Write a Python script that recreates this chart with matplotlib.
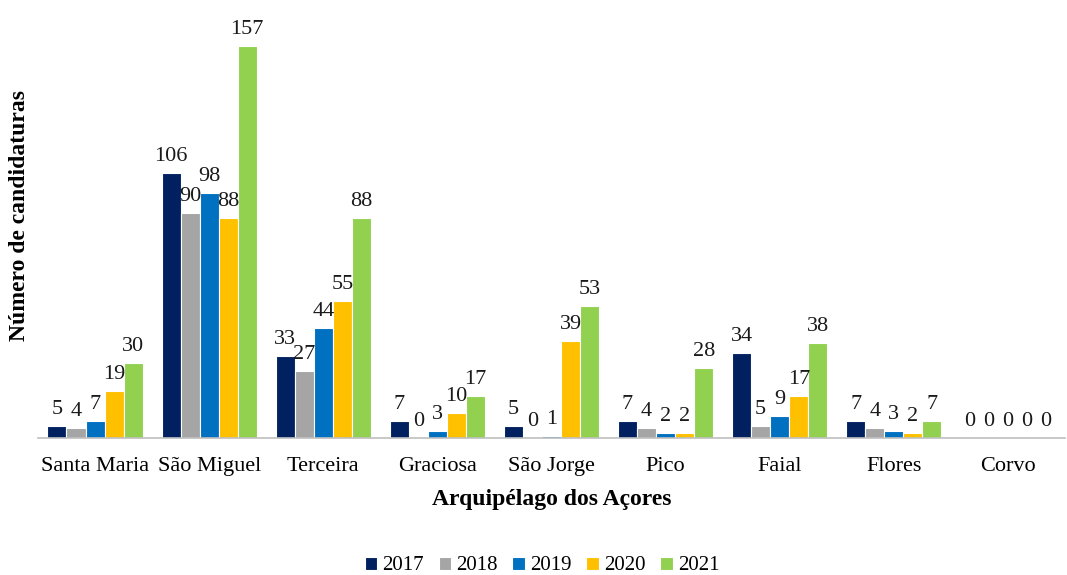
import numpy as np
import matplotlib.pyplot as plt

plt.rcParams['font.family'] = ['Liberation Serif', 'DejaVu Serif']

islands = ['Santa Maria', 'São Miguel', 'Terceira', 'Graciosa', 'São Jorge',
           'Pico', 'Faial', 'Flores', 'Corvo']
years = ['2017', '2018', '2019', '2020', '2021']
v2017 = [5, 106, 33, 7, 5, 7, 34, 7, 0]
v2018 = [4, 90, 27, 0, 0, 4, 5, 4, 0]
v2019 = [7, 98, 44, 3, 1, 2, 9, 3, 0]
v2020 = [19, 88, 55, 10, 39, 2, 17, 2, 0]
v2021 = [30, 157, 88, 17, 53, 28, 38, 7, 0]
colors = ['#002060', '#A5A5A5', '#0070C0', '#FFC000', '#92D050']

series = [v2017, v2018, v2019, v2020, v2021]

fig = plt.figure(figsize=(10.67, 5.75), dpi=100)
ax = fig.add_axes([38/1067, 1 - 438/575, (1065 - 38)/1067, (438 - 20)/575])

x = np.arange(len(islands))
slot = 0.167
for i, (vals, col, yr) in enumerate(zip(series, colors, years)):
    pos = x + (i - 2) * slot
    ax.bar(pos, vals, width=slot, color=col, edgecolor='white', linewidth=0.8,
           label=yr)
    for p, v in zip(pos, vals):
        ax.annotate(str(v), (p, v), xytext=(0, 5), textcoords='offset points',
                    ha='center', va='bottom', fontsize=16, color='#1a1a1a')

ax.set_xlim(-0.5, len(islands) - 0.5)
ax.set_ylim(0, (438 - 20) / 2.5)
ax.set_xticks(x)
ax.set_xticklabels(islands, fontsize=16)
ax.tick_params(axis='x', length=0, pad=14)
ax.set_yticks([])
for s in ['top', 'right', 'left']:
    ax.spines[s].set_visible(False)
ax.spines['bottom'].set_color('#BFBFBF')
ax.spines['bottom'].set_linewidth(1.2)

ax.set_xlabel('Arquipélago dos Açores', fontsize=17, fontweight='bold', labelpad=9)
fig.text(20/1067, 1 - 215/575, 'Número de candidaturas', rotation=90,
         fontsize=17, fontweight='bold', ha='center', va='center')

fig.legend(loc='center', bbox_to_anchor=(542/1067, 1 - 566/575), ncol=5,
           frameon=False, fontsize=15, handlelength=0.6, handleheight=0.6,
           handletextpad=0.25, columnspacing=0.7)

fig.savefig('out.png', dpi=100)
